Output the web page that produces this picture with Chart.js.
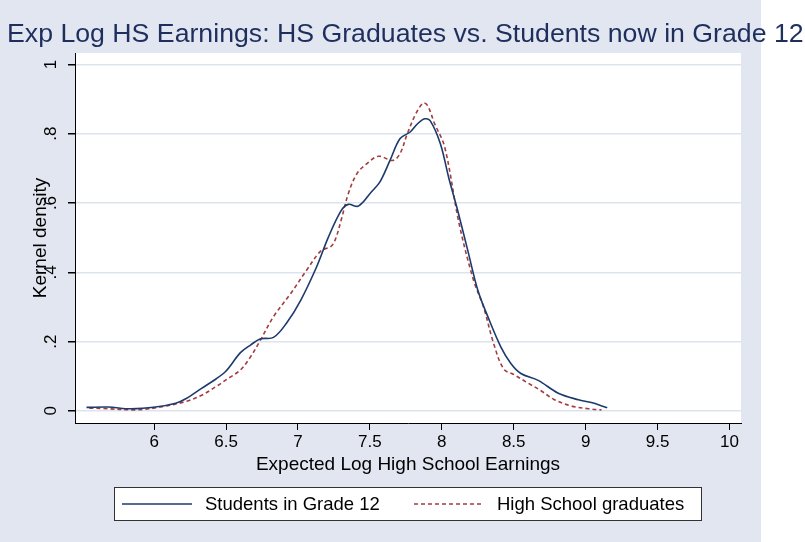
<!DOCTYPE html>
<html>
<head>
<meta charset="utf-8">
<script src="https://cdn.jsdelivr.net/npm/chart.js@4.4.0/dist/chart.umd.min.js"></script>
<style>
  html,body{margin:0;padding:0;background:#fff;}
  #c{display:block;}
</style>
</head>
<body>
<canvas id="c" width="805" height="542"></canvas>
<script>
// kernel density estimates
const grade12X = [5.53,5.68,5.84,6.01,6.15,6.22,6.33,6.43,6.50,6.60,6.67,6.74,6.83,6.92,7.02,7.13,7.21,7.30,7.35,7.42,7.51,7.57,7.64,7.71,7.78,7.83,7.88,7.92,7.99,8.05,8.11,8.18,8.25,8.32,8.41,8.48,8.55,8.67,8.81,8.95,9.04,9.15];
const grade12Y = [0.010,0.011,0.006,0.011,0.022,0.035,0.065,0.092,0.115,0.168,0.190,0.208,0.212,0.253,0.320,0.416,0.500,0.578,0.596,0.591,0.632,0.661,0.723,0.786,0.805,0.828,0.843,0.837,0.771,0.670,0.579,0.464,0.349,0.272,0.185,0.137,0.108,0.088,0.051,0.032,0.024,0.009];

const gradsX = [5.55,5.64,5.87,6.03,6.22,6.33,6.43,6.52,6.60,6.67,6.74,6.83,6.95,7.06,7.16,7.23,7.26,7.30,7.35,7.41,7.48,7.56,7.66,7.71,7.76,7.82,7.87,7.90,7.95,8.02,8.12,8.22,8.29,8.36,8.43,8.50,8.60,8.69,8.78,8.90,9.02,9.11];
const gradsY = [0.008,0.007,0.003,0.010,0.027,0.045,0.070,0.095,0.118,0.156,0.205,0.272,0.339,0.406,0.462,0.475,0.495,0.550,0.627,0.685,0.714,0.735,0.723,0.743,0.800,0.858,0.888,0.882,0.829,0.762,0.541,0.378,0.300,0.195,0.121,0.105,0.080,0.058,0.033,0.014,0.006,0.003];

const seriesNames = ["Students in Grade 12", "High School graduates"];
const xTicks = [6,6.5,7,7.5,8,8.5,9,9.5,10];
const yTicks = [0,0.2,0.4,0.6,0.8,1];
const yTickLabels = ["0",".2",".4",".6",".8","1"];

const chartTitle = "Exp Log HS Earnings: HS Graduates vs. Students now in Grade 12";
const xTitle = "Expected Log High School Earnings";
const yTitle = "Kernel density";

const BG = "#e1e6f0";
const GRID = "#dde3ee";
const NAVY = "#1d3a6c";
const MAROON = "#a33c40";
const FONT = "'Liberation Sans', Arial, sans-serif";

function pts(xs, ys){ return xs.map((x,i)=>({x:x, y:ys[i]})); }

const stataLook = {
  id:"stataLook",
  beforeDraw(chart){
    const ctx = chart.ctx, a = chart.chartArea;
    ctx.save();
    ctx.fillStyle = "#fff";
    ctx.fillRect(0,0,chart.width,chart.height);
    ctx.fillStyle = BG;
    ctx.fillRect(0,0,761,chart.height);
    ctx.fillStyle = "#fff";
    ctx.fillRect(a.left,a.top,a.right-a.left,a.bottom-a.top);
    ctx.restore();
  },
  afterDraw(chart){
    const ctx = chart.ctx, a = chart.chartArea;
    const ys = chart.scales.y;
    ctx.save();
    // title
    ctx.fillStyle = "#1e2f5e";
    ctx.font = "26.7px " + FONT;
    ctx.textAlign = "left";
    ctx.textBaseline = "middle";
    ctx.fillText(chartTitle, 7, 35);

    // y tick labels (rotated)
    ctx.fillStyle = "#000";
    ctx.font = "17px " + FONT;
    ctx.textAlign = "center";
    ctx.textBaseline = "middle";
    yTicks.forEach((v,i)=>{
      ctx.save();
      ctx.translate(51, ys.getPixelForValue(v));
      ctx.rotate(-Math.PI/2);
      ctx.fillText(yTickLabels[i], 0, 0);
      ctx.restore();
    });
    // y title
    ctx.font = "19px " + FONT;
    ctx.save();
    ctx.translate(41, (a.top+a.bottom)/2);
    ctx.rotate(-Math.PI/2);
    ctx.fillText(yTitle, 0, 0);
    ctx.restore();
    // x title
    ctx.fillText(xTitle, (a.left+a.right)/2, 465);

    // legend
    const lx = 114, ly = 487, lw = 587, lh = 33;
    ctx.fillStyle = "#fff";
    ctx.fillRect(lx,ly,lw,lh);
    ctx.strokeStyle = "#333";
    ctx.lineWidth = 1;
    ctx.strokeRect(lx+0.5,ly+0.5,lw,lh);
    const items = [{x:122, tx:205}, {x:414, tx:497}];
    chart.data.datasets.forEach((ds,i)=>{
      const cy = ly + lh/2 + 0.5;
      ctx.strokeStyle = ds.borderColor;
      ctx.lineWidth = ds.borderWidth;
      ctx.setLineDash(ds.borderDash || []);
      ctx.beginPath();
      ctx.moveTo(items[i].x, cy);
      ctx.lineTo(items[i].x+70, cy);
      ctx.stroke();
      ctx.setLineDash([]);
      ctx.fillStyle = "#000";
      ctx.font = "18.5px " + FONT;
      ctx.textAlign = "left";
      ctx.fillText(ds.label, items[i].tx, cy+1);
    });
    ctx.restore();
  }
};

new Chart(document.getElementById("c"),{
  type:"scatter",
  data:{
    datasets:[
      { label:seriesNames[0], data:pts(grade12X,grade12Y), showLine:true, borderColor:NAVY, borderWidth:1.6, pointRadius:0, tension:0.35, fill:false },
      { label:seriesNames[1], data:pts(gradsX,gradsY), showLine:true, borderColor:MAROON, borderWidth:1.6, borderDash:[4,3], pointRadius:0, tension:0.35, fill:false }
    ]
  },
  options:{
    responsive:false,
    animation:false,
    devicePixelRatio:1,
    layout:{ padding:{ left:0, right:64, top:53, bottom:0 } },
    plugins:{ legend:{display:false}, title:{display:false}, tooltip:{enabled:false} },
    scales:{
      x:{
        type:"linear", min:5.45, max:10.08,
        afterBuildTicks(s){ s.ticks = xTicks.map(v=>({value:v})); },
        afterFit(s){ s.height = 119; },
        grid:{ drawOnChartArea:false, color:"#000", tickLength:7, tickColor:"#000" },
        border:{ color:"#000", width:1 },
        ticks:{ color:"#000", font:{ family:FONT, size:17 }, padding:2, maxRotation:0, callback:v=>String(v) }
      },
      y:{
        type:"linear", min:-0.035, max:1.033,
        afterBuildTicks(s){ s.ticks = yTicks.map(v=>({value:v})); },
        afterFit(s){ s.width = 75; },
        grid:{ color:GRID, lineWidth:1.5, tickLength:7, tickColor:"#000" },
        border:{ color:"#000", width:1 },
        ticks:{ display:false }
      }
    }
  },
  plugins:[stataLook]
});
</script>
</body>
</html>
